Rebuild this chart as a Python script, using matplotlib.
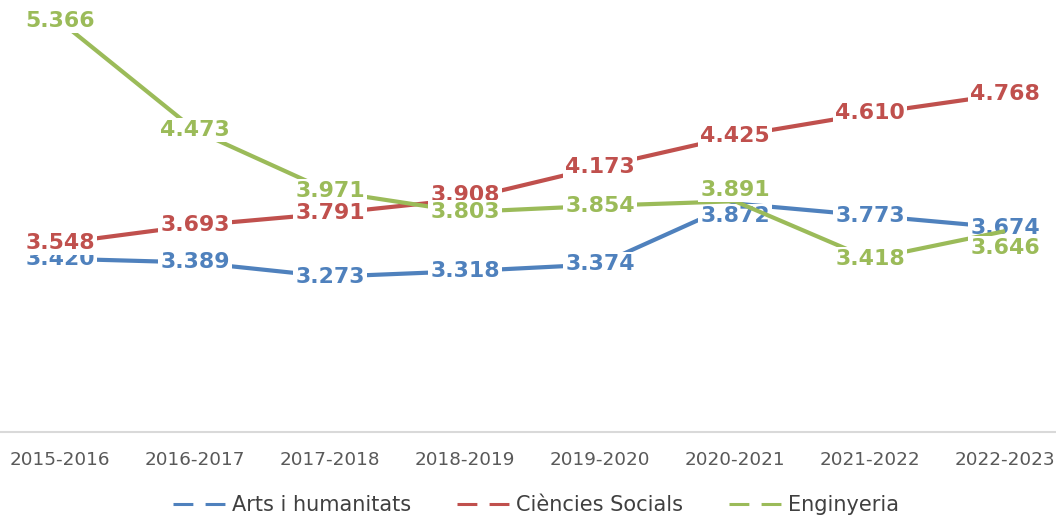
import matplotlib.pyplot as plt
from matplotlib.lines import Line2D

cursos = ["2015-2016", "2016-2017", "2017-2018", "2018-2019",
          "2019-2020", "2020-2021", "2021-2022", "2022-2023"]

arts = [3420, 3389, 3273, 3318, 3374, 3872, 3773, 3674]
socials = [3548, 3693, 3791, 3908, 4173, 4425, 4610, 4768]
enginyeria = [5366, 4473, 3971, 3803, 3854, 3891, 3418, 3646]

series = [
    ("Arts i humanitats", arts, "#4F81BD"),
    ("Ciències Socials", socials, "#C0504D"),
    ("Enginyeria", enginyeria, "#9BBB59"),
]

# vertical nudges (points) for labels that would collide with a neighbour
nudge = {
    ("Arts i humanitats", 5): -9,
    ("Ciències Socials", 3): 3,
    ("Enginyeria", 5): 8,
    ("Enginyeria", 7): -12,
}


def fmt(v):
    return f"{v:,}".replace(",", ".")


W, H = 1056, 518
fig = plt.figure(figsize=(W / 100, H / 100), dpi=100)
# plot area runs a little past both figure edges
ax = fig.add_axes([-7.5 / W, 86 / H, 1080 / W, 432 / H])

x = list(range(len(cursos)))
for i, (name, vals, color) in enumerate(series):
    z = 2 + 2 * i
    ax.plot(x, vals, color=color, lw=3, solid_capstyle="butt", zorder=z)
    for j, v in enumerate(vals):
        ax.annotate(fmt(v), (j, v), xytext=(0, nudge.get((name, j), 0)),
                    textcoords="offset points", ha="center", va="center",
                    fontsize=15.8, fontweight="bold", color=color, zorder=z + 1,
                    bbox=dict(facecolor="white", edgecolor="none", pad=1.5))

ax.set_xlim(-0.5, len(cursos) - 0.5)
ax.set_ylim(2000, 5540)
ax.set_xticks(x)
ax.set_xticklabels(cursos, fontsize=13.2, color="#595959")
ax.tick_params(axis="x", length=0, pad=14)
ax.set_yticks([])
for s in ["top", "left", "right"]:
    ax.spines[s].set_visible(False)
ax.spines["bottom"].set_color("#D9D9D9")
ax.spines["bottom"].set_linewidth(1.5)

handles = [Line2D([], [], color=c, lw=2.2, dashes=[6.5, 4]) for _, _, c in series]
fig.legend(handles, [n for n, _, _ in series], loc="center",
           bbox_to_anchor=(536 / W, 13 / H), ncol=3, frameon=False,
           fontsize=15, labelcolor="#404040", handlelength=2.6,
           handletextpad=0.25, columnspacing=2.2)

fig.savefig("out.png", dpi=100)
